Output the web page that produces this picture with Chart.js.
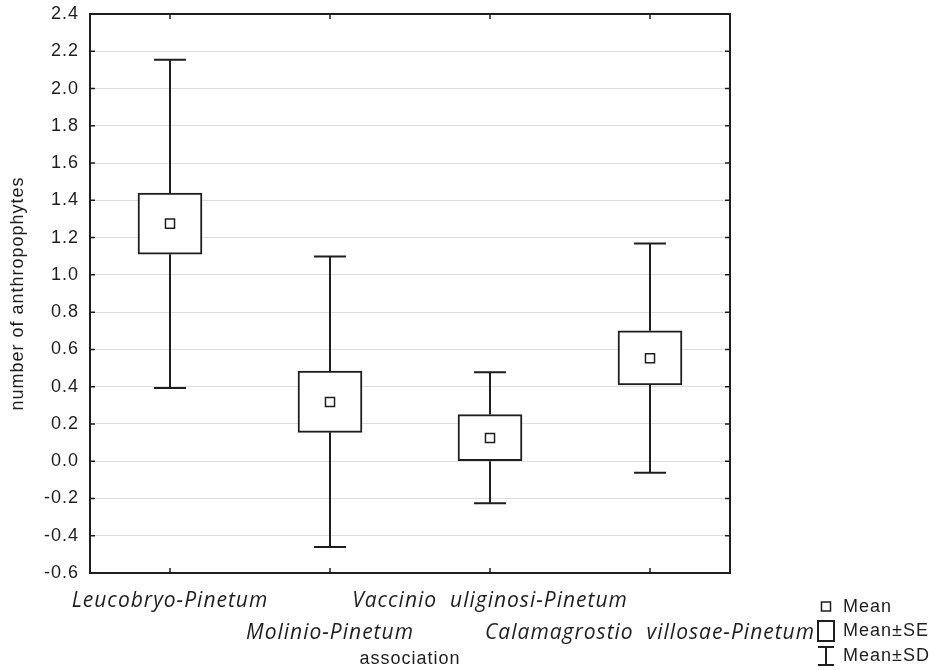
<!DOCTYPE html>
<html>
<head>
<meta charset="utf-8">
<script src="https://cdn.jsdelivr.net/npm/chart.js@4.4.1/dist/chart.umd.min.js"></script>
<style>
  html, body { margin: 0; padding: 0; background: #fff; }
  #wrap { width: 942px; height: 670px; }
</style>
</head>
<body>
<div id="wrap"><canvas id="chart" width="942" height="670"></canvas></div>
<script>
// 数据
const categories = ['Leucobryo-Pinetum', 'Molinio-Pinetum', 'Vaccinio  uliginosi-Pinetum', 'Calamagrostio  villosae-Pinetum'];
const means  = [1.275, 0.318, 0.125, 0.553];
const seLow  = [1.111, 0.155, 0.000, 0.409];
const seHigh = [1.439, 0.483, 0.250, 0.700];
const sdLow  = [0.393, -0.461, -0.226, -0.062];
const sdHigh = [2.155, 1.099, 0.478, 1.168];
const yMin = -0.6, yMax = 2.4, yStep = 0.2;

const INK = '#1e1e1e';
const SANS = '"Liberation Sans", Arial, sans-serif';

// 原图文字横向偏宽，用少量字间距近似
const spacingPlugin = {
    id: 'spacing',
    beforeInit(chart) { chart.ctx.letterSpacing = '1px'; },
    beforeDraw(chart) { chart.ctx.letterSpacing = '1px'; }
};

// 须线 (Mean±SD)
const whiskerPlugin = {
    id: 'whiskers',
    beforeDatasetsDraw(chart) {
        const { ctx, scales: { x, y } } = chart;
        ctx.save();
        ctx.strokeStyle = INK;
        ctx.lineWidth = 2;
        categories.forEach((c, i) => {
            const px = x.getPixelForValue(i);
            const segs = [[seHigh[i], sdHigh[i]], [seLow[i], sdLow[i]]];
            segs.forEach(([from, to]) => {
                const y1 = y.getPixelForValue(from), y2 = y.getPixelForValue(to);
                ctx.beginPath();
                ctx.moveTo(px, y1); ctx.lineTo(px, y2);
                ctx.moveTo(px - 16, y2); ctx.lineTo(px + 16, y2);
                ctx.stroke();
            });
        });
        ctx.restore();
    }
};

// 边框、内刻度和图例
const framePlugin = {
    id: 'frame',
    afterDraw(chart) {
        const { ctx, chartArea: a, scales: { x, y } } = chart;
        ctx.save();
        ctx.strokeStyle = INK;
        ctx.lineWidth = 2;
        ctx.strokeRect(a.left, a.top, a.right - a.left, a.bottom - a.top);
        ctx.lineWidth = 1.5;
        ctx.beginPath();
        y.ticks.forEach(t => {
            const py = y.getPixelForValue(t.value);
            ctx.moveTo(a.left, py); ctx.lineTo(a.left + 5, py);
            ctx.moveTo(a.right, py); ctx.lineTo(a.right - 5, py);
        });
        categories.forEach((c, i) => {
            const px = x.getPixelForValue(i);
            ctx.moveTo(px, a.top); ctx.lineTo(px, a.top + 5);
            ctx.moveTo(px, a.bottom); ctx.lineTo(px, a.bottom - 5);
        });
        ctx.stroke();

        // 图例
        const lx = 826;
        ctx.lineWidth = 1.5;
        ctx.strokeRect(lx - 4.5, 602, 9, 9);
        ctx.lineWidth = 2;
        ctx.strokeRect(lx - 8, 621, 16, 20);
        ctx.beginPath();
        ctx.moveTo(lx - 8, 647); ctx.lineTo(lx + 8, 647);
        ctx.moveTo(lx, 647); ctx.lineTo(lx, 665);
        ctx.moveTo(lx - 8, 665); ctx.lineTo(lx + 8, 665);
        ctx.stroke();
        ctx.fillStyle = INK;
        ctx.font = '18px ' + SANS;
        ctx.textBaseline = 'middle';
        ctx.fillText('Mean', 843, 607);
        ctx.fillText('Mean\u00b1SE', 843, 631);
        ctx.fillText('Mean\u00b1SD', 843, 656);
        ctx.restore();
    }
};

const ctx = document.getElementById('chart');
new Chart(ctx, {
    type: 'bar',
    data: {
        labels: categories,
        datasets: [
            {
                type: 'line',
                label: 'Mean',
                data: means,
                showLine: false,
                pointStyle: 'rect',
                pointRadius: 6.4,
                pointHoverRadius: 6.4,
                pointBackgroundColor: '#fff',
                pointBorderColor: INK,
                pointBorderWidth: 1.5,
                order: 0
            },
            {
                label: 'Mean±SE',
                data: seLow.map((lo, i) => [lo, seHigh[i]]),
                backgroundColor: '#fff',
                borderColor: INK,
                borderWidth: 2,
                borderSkipped: false,
                barThickness: 64,
                order: 1
            }
        ]
    },
    options: {
        responsive: false,
        animation: false,
        events: [],
        layout: { padding: { top: 14, right: 212, left: 0, bottom: 0 } },
        plugins: {
            legend: { display: false },
            tooltip: { enabled: false }
        },
        scales: {
            x: {
                grid: { display: false, drawTicks: false },
                border: { display: false },
                ticks: {
                    padding: 12,
                    color: INK,
                    maxRotation: 0,
                    autoSkip: false,
                    font: { family: '"Open Sans", sans-serif', style: 'italic', size: 21, lineHeight: 1.52 },
                    callback: (v, i) => i % 2 === 0 ? [categories[i], ''] : ['', categories[i]]
                },
                title: {
                    display: true,
                    text: 'association',
                    color: INK,
                    padding: { top: 0, bottom: 0 },
                    font: { family: SANS, size: 18 }
                },
                afterFit: s => { s.height = 97; s.paddingLeft = 0; s.paddingRight = 0; }
            },
            y: {
                min: yMin,
                max: yMax,
                grid: { color: '#dedede', lineWidth: 1, drawTicks: false },
                border: { display: false },
                ticks: {
                    stepSize: yStep,
                    padding: 11,
                    color: INK,
                    font: { family: SANS, size: 18 },
                    callback: v => (Math.abs(v) < 1e-9 ? 0 : v).toFixed(1)
                },
                title: {
                    display: true,
                    text: 'number of anthropophytes',
                    color: INK,
                    padding: { top: 7, bottom: 0 },
                    font: { family: SANS, size: 18 }
                },
                afterFit: s => { s.width = 90; s.paddingTop = 0; s.paddingBottom = 0; }
            }
        }
    },
    plugins: [spacingPlugin, whiskerPlugin, framePlugin]
});
</script>
</body>
</html>
